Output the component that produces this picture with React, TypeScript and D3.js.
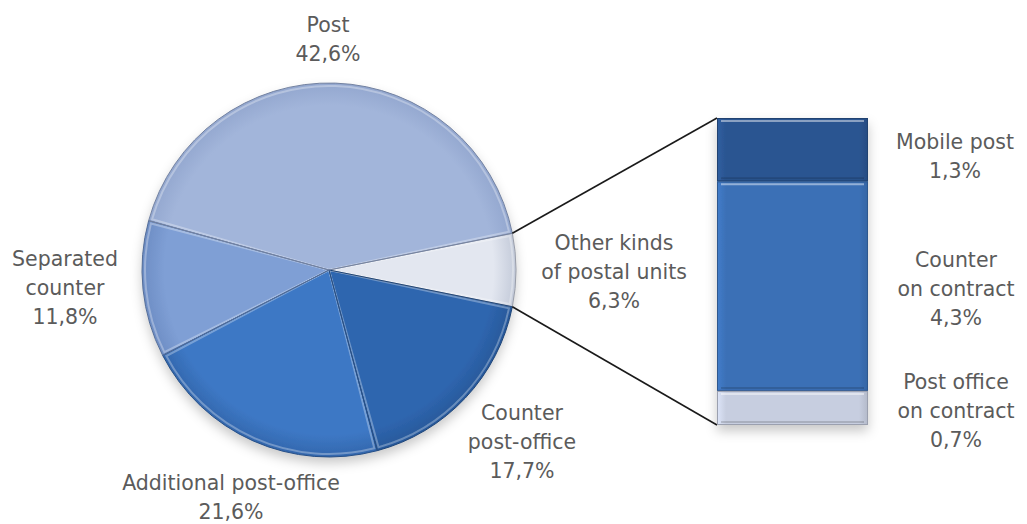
import React from "react";
import * as d3 from "d3";

const pieCategories = ["Other kinds of postal units", "Counter post-office", "Additional post-office", "Separated counter", "Post"];
const pieValues = [6.3, 17.7, 21.6, 11.8, 42.6];
const pieLabelLines = [
  ["Other kinds", "of postal units", "6,3%"],
  ["Counter", "post-office", "17,7%"],
  ["Additional post-office", "21,6%"],
  ["Separated", "counter", "11,8%"],
  ["Post", "42,6%"],
];
const barCategories = ["Mobile post", "Counter on contract", "Post office on contract"];
const barValues = [1.3, 4.3, 0.7];
const barLabelLines = [
  ["Mobile post", "1,3%"],
  ["Counter", "on contract", "4,3%"],
  ["Post office", "on contract", "0,7%"],
];

const W = 1027, H = 524;
const cx = 329, cy = 270, R = 187;
const pieColors = ["#e3e7f0", "#2f66af", "#3d78c5", "#7f9fd5", "#a2b5da"];
const pieColorsDark = ["#c3cad9", "#27589a", "#3367ad", "#6d8dc4", "#93a7cf"];
const barColors = ["#2b5591", "#3b70b6", "#c7cee0"];
const pieLabelPos = [
  { x: 614, y: 250 },
  { x: 522, y: 420 },
  { x: 231, y: 490 },
  { x: 65, y: 266 },
  { x: 328, y: 32 },
];
const barLabelPos = [
  { x: 955, y: 149 },
  { x: 956, y: 267 },
  { x: 956, y: 389 },
];
const lineH = 29;
const barX0 = 717, barX1 = 868, barY0 = 118, barY1 = 425;

export default function App() {
  const otherDeg = (pieValues[0] / 100) * 360;
  const start = ((90 - otherDeg / 2) * Math.PI) / 180;
  const pie = d3.pie<number>().sort(null).value((d) => d).startAngle(start).endAngle(start + 2 * Math.PI);
  const arcs = pie(pieValues);
  const arc = d3.arc<d3.PieArcDatum<number>>().innerRadius(0).outerRadius(R);
  const arcIn = d3.arc<d3.PieArcDatum<number>>().innerRadius(0).outerRadius(R - 3);

  const y = d3.scaleLinear().domain([0, d3.sum(barValues)]).range([barY0, barY1]);
  const stacked: { y0: number; y1: number }[] = [];
  let acc = 0;
  barValues.forEach((v) => {
    stacked.push({ y0: y(acc), y1: y(acc + v) });
    acc += v;
  });

  const pt = (a: number) => [cx + R * Math.sin(a), cy - R * Math.cos(a)];
  const pA = pt(arcs[0].startAngle);
  const pB = pt(arcs[0].endAngle);

  const textStyle: React.CSSProperties = { fontFamily: "DejaVu Sans", fontSize: 20.5, fill: "#5b5b5b" };

  return (
    <svg width={W} height={H} style={{ position: "absolute", left: 0, top: 0, background: "#fff" }}>
      <defs>
        <filter id="sh" x="-20%" y="-20%" width="140%" height="150%">
          <feDropShadow dx="0" dy="6" stdDeviation="6" floodColor="#000" floodOpacity="0.22" />
        </filter>
        {pieColors.map((c, i) => (
          <radialGradient key={i} id={`pg${i}`} cx={0} cy={0} r={R} gradientUnits="userSpaceOnUse">
            <stop offset="0" stopColor={c} />
            <stop offset="0.88" stopColor={c} />
            <stop offset="1" stopColor={pieColorsDark[i]} />
          </radialGradient>
        ))}
        {barColors.map((c, i) => (
          <linearGradient key={i} id={`bg${i}`} x1="0" x2="1" y1="0" y2="0">
            <stop offset="0" stopColor={d3.color(c)!.brighter(0.3).toString()} />
            <stop offset="0.06" stopColor={c} />
            <stop offset="0.94" stopColor={c} />
            <stop offset="1" stopColor={d3.color(c)!.darker(0.3).toString()} />
          </linearGradient>
        ))}
      </defs>

      <g transform={`translate(${cx},${cy})`}>
        <g filter="url(#sh)">
          {arcs.map((a, i) => (
            <path key={pieCategories[i]} d={arc(a)!} fill={`url(#pg${i})`} />
          ))}
        </g>
        {arcs.map((a, i) => (
          <path
            key={"h" + i}
            d={arcIn({ ...a, startAngle: a.startAngle + 0.012, endAngle: a.endAngle - 0.012 })!}
            fill="none"
            stroke="#ffffff"
            strokeOpacity={0.3}
            strokeWidth={2}
          />
        ))}
        {arcs.map((a, i) => (
          <path key={"s" + i} d={arc(a)!} fill="none" stroke={d3.color(pieColorsDark[i])!.darker(0.7).toString()} strokeWidth={1} strokeLinejoin="round" />
        ))}
      </g>

      <line x1={pA[0]} y1={pA[1]} x2={barX0} y2={barY0} stroke="#1a1a1a" strokeWidth={1.6} />
      <line x1={pB[0]} y1={pB[1]} x2={barX0} y2={barY1} stroke="#1a1a1a" strokeWidth={1.6} />

      <g filter="url(#sh)">
        {stacked.map((s, i) => (
          <rect key={barCategories[i]} x={barX0} y={s.y0} width={barX1 - barX0} height={s.y1 - s.y0} fill={`url(#bg${i})`} />
        ))}
      </g>
      {stacked.map((s, i) => (
        <g key={"b" + i}>
          <rect x={barX0 + 0.5} y={s.y0 + 0.5} width={barX1 - barX0 - 1} height={s.y1 - s.y0 - 1} fill="none" stroke={d3.color(barColors[i])!.darker(0.7).toString()} strokeWidth={1} />
          <line x1={barX0 + 4} x2={barX1 - 4} y1={s.y0 + 3} y2={s.y0 + 3} stroke="#fff" strokeOpacity={0.45} strokeWidth={2} />
          <line x1={barX0 + 4} x2={barX1 - 4} y1={s.y1 - 3} y2={s.y1 - 3} stroke="#000" strokeOpacity={0.15} strokeWidth={2} />
        </g>
      ))}

      {pieLabelLines.map((lines, i) => (
        <text key={"pl" + i} x={pieLabelPos[i].x} y={pieLabelPos[i].y} textAnchor="middle" style={textStyle}>
          {lines.map((l, j) => (
            <tspan key={j} x={pieLabelPos[i].x} dy={j === 0 ? 0 : lineH}>{l}</tspan>
          ))}
        </text>
      ))}
      {barLabelLines.map((lines, i) => (
        <text key={"bl" + i} x={barLabelPos[i].x} y={barLabelPos[i].y} textAnchor="middle" style={textStyle}>
          {lines.map((l, j) => (
            <tspan key={j} x={barLabelPos[i].x} dy={j === 0 ? 0 : lineH}>{l}</tspan>
          ))}
        </text>
      ))}
    </svg>
  );
}
